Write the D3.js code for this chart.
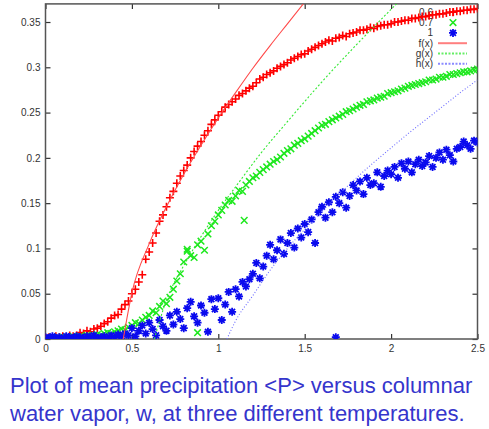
<!DOCTYPE html>
<html>
<head>
<meta charset="utf-8">
<script src="https://cdn.jsdelivr.net/npm/d3@7"></script>
<style>
body { margin: 0; background: #fff; }
#chart { width: 489px; height: 429px; }
</style>
</head>
<body>
<div id="chart"></div>
<script>
// columnar water vapour grid, w = 0 .. 2.5 step 0.02
var w = d3.range(0, 126).map(function(i){ return +(i * 0.02).toFixed(2); });

// mean precipitation <P>, one value per w
var p06 = [
	0.001,0.002,0.001,0.003,0.002,0.003,0.002,0.004,0.003,0.004,
	0.007,0.006,0.009,0.008,0.011,0.012,0.014,0.017,0.019,0.023,
	0.026,0.027,0.033,0.038,0.042,0.050,0.055,0.063,0.071,0.088,
	0.096,0.106,0.117,0.130,0.137,0.146,0.156,0.163,0.172,0.180,
	0.186,0.192,0.200,0.207,0.213,0.218,0.225,0.230,0.237,0.242,
	0.247,0.251,0.256,0.259,0.262,0.265,0.269,0.271,0.274,0.277,
	0.279,0.283,0.287,0.289,0.292,0.294,0.296,0.299,0.301,0.303,
	0.305,0.308,0.310,0.312,0.314,0.315,0.318,0.320,0.322,0.324,
	0.326,0.328,0.330,0.329,0.332,0.333,0.335,0.334,0.337,0.338,
	0.339,0.341,0.341,0.342,0.344,0.343,0.345,0.346,0.347,0.347,
	0.348,0.350,0.350,0.351,0.352,0.352,0.354,0.354,0.355,0.356,
	0.356,0.357,0.358,0.358,0.359,0.359,0.360,0.361,0.361,0.362,
	0.362,0.363,0.363,0.364,0.364,0.365
];
var p07 = [
	0.001,0.000,0.002,0.001,0.001,0.002,0.002,0.001,0.003,0.002,
	0.003,0.002,0.004,0.003,0.004,0.005,0.004,0.006,0.007,0.006,
	0.008,0.009,0.011,0.010,0.013,0.015,0.018,0.017,0.021,0.024,
	0.026,0.031,0.029,0.036,0.042,0.039,0.046,0.055,0.064,0.072,
	0.085,0.097,0.092,0.090,0.104,0.108,0.098,0.116,0.125,0.130,
	0.137,0.142,0.148,0.153,0.152,0.158,0.164,0.163,0.170,0.174,
	0.178,0.180,0.184,0.187,0.190,0.193,0.196,0.198,0.201,0.205,
	0.208,0.210,0.214,0.216,0.219,0.221,0.224,0.227,0.230,0.233,
	0.236,0.237,0.240,0.242,0.244,0.246,0.248,0.251,0.252,0.254,
	0.256,0.258,0.259,0.262,0.263,0.264,0.266,0.267,0.268,0.271,
	0.272,0.273,0.274,0.276,0.277,0.279,0.280,0.281,0.282,0.283,
	0.284,0.286,0.286,0.287,0.289,0.289,0.290,0.292,0.292,0.293,
	0.294,0.295,0.295,0.296,0.297,0.298
];
var p1 = [
	0.002,0.001,0.003,0.001,0.002,0.000,0.003,0.002,0.001,0.003,
	0.002,0.001,0.003,0.002,0.004,0.001,0.002,0.003,0.001,0.004,
	0.002,0.005,0.003,0.006,0.004,0.012,0.003,0.009,0.015,0.006,
	0.018,0.011,0.004,0.021,0.014,0.009,0.026,0.016,0.030,0.022,
	0.012,0.034,0.041,0.025,0.018,0.037,0.029,0.008,0.044,0.033,
	0.045,0.021,0.038,0.052,0.030,0.055,0.047,0.063,0.058,0.066,
	0.072,0.084,0.067,0.080,0.092,0.104,0.088,0.098,0.110,0.094,
	0.106,0.117,0.101,0.122,0.112,0.127,0.118,0.132,0.106,0.140,
	0.146,0.134,0.151,0.140,0.157,0.150,0.162,0.145,0.158,0.170,
	0.164,0.174,0.160,0.178,0.170,0.172,0.184,0.168,0.180,0.186,
	0.182,0.190,0.178,0.194,0.188,0.196,0.184,0.193,0.198,0.191,
	0.195,0.202,0.190,0.200,0.206,0.198,0.209,0.203,0.196,0.210,
	0.212,0.218,0.214,0.210,0.219,0.217
];
// stray points off the main clouds
var p07Extra = [[0.88,0.007],[1.15,0.131],[0.82,0.099]];
var p1Extra = [[1.68,0.002]];

// fitted curves f, g, h
var fW = [0.45,0.5,0.6,0.7,0.8,0.9,1.0,1.1,1.2,1.3,1.4,1.5];
var fP = [0,0.051,0.105,0.146,0.182,0.214,0.244,0.272,0.299,0.324,0.348,0.372];
var gW = [0.63,0.7,0.8,0.9,1.0,1.1,1.25,1.4,1.6,1.8,2.0,2.1];
var gP = [0,0.043,0.081,0.113,0.142,0.168,0.206,0.240,0.284,0.325,0.364,0.383];
var hW = [1.05,1.1,1.2,1.3,1.4,1.5,1.6,1.7,1.8,1.9,2.0,2.1,2.2,2.3,2.4,2.5];
var hP = [0,0.02,0.048,0.076,0.10,0.121,0.141,0.160,0.178,0.195,0.211,0.227,0.242,0.257,0.272,0.286];

var xTicks = [0,0.5,1,1.5,2,2.5];
var xTickLabels = ["0","0.5","1","1.5","2","2.5"];
var yTicks = [0,0.05,0.1,0.15,0.2,0.25,0.3,0.35];
var yTickLabels = ["0","0.05","0.1","0.15","0.2","0.25","0.3","0.35"];
var keyLabels = ["0.6","0.7","1","f(x)","g(x)","h(x)"];
var caption = ["Plot of mean precipitation <P> versus columnar",
	"water vapor, w, at three different temperatures."];

var width = 489, height = 429;
var box = {left:45.5, right:477.5, top:3.9, bottom:339};

var svg = d3.select("#chart")
	.append("svg")
	.attr("width", width)
	.attr("height", height)
	.style("font-family", "'Liberation Sans', Arial, sans-serif");

var xScale = d3.scaleLinear().domain([0,2.5]).range([box.left, box.right]);
var yScale = d3.scaleLinear().domain([0,0.37]).range([box.bottom, box.top]);

svg.append("defs").append("clipPath")
	.attr("id","plotClip")
	.append("rect")
	.attr("x", box.left).attr("y", box.top)
	.attr("width", box.right - box.left)
	.attr("height", box.bottom - box.top);

// axes, ticks pointing inward and mirrored
function fmtX(d){ return xTickLabels[xTicks.indexOf(d)]; }
function fmtY(d){ return yTickLabels[yTicks.indexOf(d)]; }

var axes = [
	{ax: d3.axisBottom(xScale).tickValues(xTicks).tickFormat(fmtX).tickPadding(6), t: "translate(0," + box.bottom + ")"},
	{ax: d3.axisTop(xScale).tickValues(xTicks).tickFormat(""), t: "translate(0," + box.top + ")"},
	{ax: d3.axisLeft(yScale).tickValues(yTicks).tickFormat(fmtY).tickPadding(5), t: "translate(" + box.left + ",0)"},
	{ax: d3.axisRight(yScale).tickValues(yTicks).tickFormat(""), t: "translate(" + box.right + ",0)"}
];
axes.forEach(function(a){
	var g = svg.append("g")
		.attr("transform", a.t)
		.call(a.ax.tickSizeInner(-5).tickSizeOuter(0));
	g.select(".domain").remove();
	g.selectAll("line").attr("stroke","#333").attr("stroke-width",1.2);
	g.selectAll("text").attr("fill","#333").style("font-size","10px")
		.style("font-family", "'Liberation Sans', Arial, sans-serif");
});

svg.append("rect")
	.attr("x", box.left).attr("y", box.top)
	.attr("width", box.right - box.left)
	.attr("height", box.bottom - box.top)
	.attr("fill","none")
	.attr("stroke","#555")
	.attr("stroke-width",1.5);

// key
var keyX = 433, keyY0 = 12.3, keyDy = 10.3;
svg.append("g").selectAll("text")
	.data(keyLabels)
	.enter().append("text")
	.attr("x", keyX)
	.attr("y", function(d,i){ return keyY0 + i*keyDy; })
	.attr("dy","0.35em")
	.attr("text-anchor","end")
	.attr("fill","#333")
	.style("font-size","10px")
	.text(function(d){ return d; });

var plus = "M-4,0H4M0,-4V4";
var cross = "M-3.3,-3.3L3.3,3.3M-3.3,3.3L3.3,-3.3";
var star = "M-4,0H4M0,-4V4M-2.9,-2.9L2.9,2.9M-2.9,2.9L2.9,-2.9";

var series = [
	{pts: w.map(function(d,i){ return [d, p06[i]]; }), sym: plus, color: "#ff0000", sw: 1.6},
	{pts: w.map(function(d,i){ return [d, p07[i]]; }).concat(p07Extra), sym: cross, color: "#1ee81e", sw: 1.5},
	{pts: w.map(function(d,i){ return [d, p1[i]]; }).concat(p1Extra), sym: star, color: "#0a0aee", sw: 1.8}
];

var plot = svg.append("g").attr("clip-path","url(#plotClip)");

series.forEach(function(s, k){
	plot.append("g").selectAll("path")
		.data(s.pts)
		.enter().append("path")
		.attr("transform", function(d){ return "translate(" + xScale(d[0]) + "," + yScale(d[1]) + ")"; })
		.attr("d", s.sym)
		.attr("fill","none")
		.attr("stroke", s.color)
		.attr("stroke-width", s.sw);
	svg.append("path")
		.attr("transform","translate(453," + (keyY0 + k*keyDy) + ")")
		.attr("d", s.sym)
		.attr("fill","none")
		.attr("stroke", s.color)
		.attr("stroke-width", s.sw);
});

var line = d3.line()
	.curve(d3.curveMonotoneX)
	.x(function(d){ return xScale(d[0]); })
	.y(function(d){ return yScale(d[1]); });

var fits = [
	{pts: fW.map(function(d,i){ return [d, fP[i]]; }), color: "#ff4a4a", dash: null, key: "#ff7f7f"},
	{pts: gW.map(function(d,i){ return [d, gP[i]]; }), color: "#33e833", dash: "2,2", key: "#66ee66"},
	{pts: hW.map(function(d,i){ return [d, hP[i]]; }), color: "#6a6aff", dash: "1,2", key: "#8a8aff"}
];

fits.forEach(function(f, k){
	plot.append("path")
		.datum(f.pts)
		.attr("d", line)
		.attr("fill","none")
		.attr("stroke", f.color)
		.attr("stroke-width", 1.1)
		.attr("stroke-dasharray", f.dash);
	var ky = keyY0 + (k+3)*keyDy;
	svg.append("line")
		.attr("x1",438).attr("x2",467)
		.attr("y1",ky).attr("y2",ky)
		.attr("stroke", f.key)
		.attr("stroke-width", 2)
		.attr("stroke-dasharray", f.dash ? "2,1.5" : null);
});

// caption under the plot
svg.append("g").selectAll("text")
	.data(caption)
	.enter().append("text")
	.attr("x", 10)
	.attr("y", function(d,i){ return 393 + i*28; })
	.attr("fill","#3535cc")
	.style("font-size","22px")
	.text(function(d){ return d; });
</script>
</body>
</html>
